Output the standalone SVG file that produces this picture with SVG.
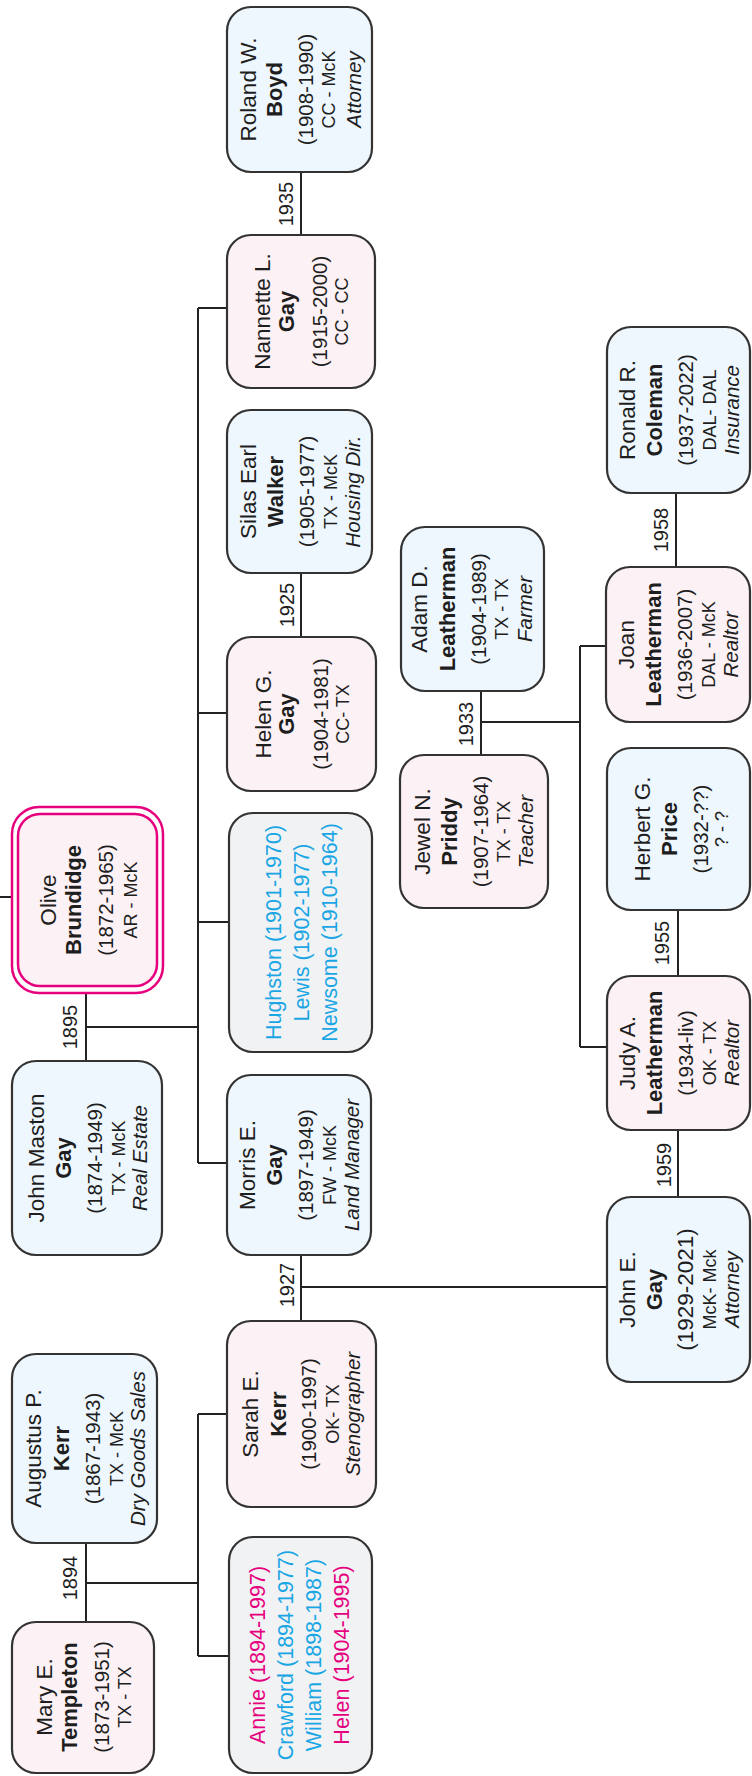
<svg xmlns="http://www.w3.org/2000/svg" width="752" height="1776" viewBox="0 0 752 1776">
  <style>
    text { font-family: "Liberation Sans", Arial, sans-serif; fill: #1e1e1e; text-anchor: middle; }
    .box { stroke: #333; stroke-width: 2.2; }
    .f { fill: #fcf1f5; }
    .m { fill: #eef7fd; }
    .g { fill: #f1f2f4; }
    .nm { font-size: 22.5px; }
    .sn { font-size: 22px; font-weight: bold; }
    .dt { font-size: 20.5px; }
    .lc { font-size: 18px; }
    .oc { font-size: 20.5px; font-style: italic; }
    .kid { font-size: 21.5px; }
    .pk { fill: #e6007e; }
    .cy { fill: #1aa6e4; }
    .yr { font-size: 20px; }
    .ln { stroke: #222; stroke-width: 2; fill: none; }
  </style>

  <!-- connectors -->
  <g id="connectors">
    <path class="ln" d="M86 1543V1622M86 1583H198M198 1414V1656M198 1414H227M198 1656H229"/>
    <path class="ln" d="M0 897H12"/>
    <path class="ln" d="M86 993V1061M86 1027H198M198 308V1163M198 308H227M198 713H227M198 922H229M198 1163H227"/>
    <path class="ln" d="M301 172V235"/>
    <path class="ln" d="M301 573V637"/>
    <path class="ln" d="M301 1255V1321M301 1287H607"/>
    <path class="ln" d="M481 691V755M481 722H580M580 646V1047M580 646H606M580 1047H607"/>
    <path class="ln" d="M676 493V567"/>
    <path class="ln" d="M678 910V976"/>
    <path class="ln" d="M678 1130V1197"/>
    <text class="yr" transform="translate(77,1578) rotate(-90)">1894</text>
    <text class="yr" transform="translate(77,1027) rotate(-90)">1895</text>
    <text class="yr" transform="translate(294,1285) rotate(-90)">1927</text>
    <text class="yr" transform="translate(294,605) rotate(-90)">1925</text>
    <text class="yr" transform="translate(293,204) rotate(-90)">1935</text>
    <text class="yr" transform="translate(473,724) rotate(-90)">1933</text>
    <text class="yr" transform="translate(668,530) rotate(-90)">1958</text>
    <text class="yr" transform="translate(669,943) rotate(-90)">1955</text>
    <text class="yr" transform="translate(671,1165) rotate(-90)">1959</text>
  </g>

  <g id="mary-templeton">
    <rect class="box f" x="12" y="1622" width="142" height="151" rx="24"/>
    <g transform="translate(83,1697) rotate(-90)">
      <text class="nm" y="-31">Mary E.</text>
      <text class="sn" y="-6">Templeton</text>
      <text class="dt" y="26">(1873-1951)</text>
      <text class="lc" y="48">TX - TX</text>
    </g>
  </g>

  <g id="augustus-kerr">
    <rect class="box m" x="12" y="1354" width="145" height="189" rx="24"/>
    <g transform="translate(84.5,1448.5) rotate(-90)">
      <text class="nm" y="-44">Augustus P.</text>
      <text class="sn" y="-16">Kerr</text>
      <text class="dt" y="15">(1867-1943)</text>
      <text class="lc" y="38">TX - McK</text>
      <text class="oc" y="60">Dry Goods Sales</text>
    </g>
  </g>

  <g id="kerr-children">
    <rect class="box g" x="229" y="1537" width="143" height="236" rx="24"/>
    <g transform="translate(300.5,1655) rotate(-90)">
      <text class="kid pk" y="-35.5">Annie (1894-1997)</text>
      <text class="kid cy" y="-7.5">Crawford (1894-1977)</text>
      <text class="kid cy" y="20.5">William (1898-1987)</text>
      <text class="kid pk" y="48.5">Helen (1904-1995)</text>
    </g>
  </g>

  <g id="sarah-kerr">
    <rect class="box f" x="227" y="1321" width="149" height="186" rx="24"/>
    <g transform="translate(301.5,1414) rotate(-90)">
      <text class="nm" y="-44">Sarah E.</text>
      <text class="sn" y="-16">Kerr</text>
      <text class="dt" y="14">(1900-1997)</text>
      <text class="lc" y="37">OK- TX</text>
      <text class="oc" y="58">Stenographer</text>
    </g>
  </g>

  <g id="john-maston-gay">
    <rect class="box m" x="12" y="1061" width="150" height="194" rx="24"/>
    <g transform="translate(87,1158) rotate(-90)">
      <text class="nm" y="-43">John Maston</text>
      <text class="sn" y="-16">Gay</text>
      <text class="dt" y="15">(1874-1949)</text>
      <text class="lc" y="38">TX - McK</text>
      <text class="oc" y="60">Real Estate</text>
    </g>
  </g>

  <g id="olive-brundidge">
    <rect x="12" y="807" width="151" height="186" rx="27" fill="#fff" stroke="#e6007e" stroke-width="2.5"/>
    <rect x="18" y="814" width="139" height="172" rx="22" fill="#fcf1f5" stroke="#e6007e" stroke-width="2.5"/>
    <g transform="translate(87.5,900) rotate(-90)">
      <text class="nm" y="-32">Olive</text>
      <text class="sn" y="-7">Brundidge</text>
      <text class="dt" y="25">(1872-1965)</text>
      <text class="lc" y="49">AR - McK</text>
    </g>
  </g>

  <g id="morris-gay">
    <rect class="box m" x="227" y="1075" width="144" height="180" rx="24"/>
    <g transform="translate(299,1165) rotate(-90)">
      <text class="nm" y="-44">Morris E.</text>
      <text class="sn" y="-17">Gay</text>
      <text class="dt" y="14">(1897-1949)</text>
      <text class="lc" y="37">FW - McK</text>
      <text class="oc" y="60">Land Manager</text>
    </g>
  </g>

  <g id="gay-children">
    <rect class="box g" x="229" y="813" width="143" height="239" rx="24"/>
    <g transform="translate(300.5,932.5) rotate(-90)">
      <text class="kid cy" y="-19.5">Hughston (1901-1970)</text>
      <text class="kid cy" y="8.5">Lewis (1902-1977)</text>
      <text class="kid cy" y="36.5">Newsome (1910-1964)</text>
    </g>
  </g>

  <g id="helen-gay">
    <rect class="box f" x="227" y="637" width="149" height="154" rx="24"/>
    <g transform="translate(301.5,714) rotate(-90)">
      <text class="nm" y="-31">Helen G.</text>
      <text class="sn" y="-8">Gay</text>
      <text class="dt" y="26">(1904-1981)</text>
      <text class="lc" y="47">CC- TX</text>
    </g>
  </g>

  <g id="silas-walker">
    <rect class="box m" x="227" y="410" width="145" height="163" rx="24"/>
    <g transform="translate(299.5,491.5) rotate(-90)">
      <text class="nm" y="-44">Silas Earl</text>
      <text class="sn" y="-17">Walker</text>
      <text class="dt" y="14">(1905-1977)</text>
      <text class="lc" y="37">TX - McK</text>
      <text class="oc" y="60">Housing Dir.</text>
    </g>
  </g>

  <g id="nannette-gay">
    <rect class="box f" x="227" y="235" width="148" height="153" rx="24"/>
    <g transform="translate(301,311.5) rotate(-90)">
      <text class="nm" y="-31">Nannette L.</text>
      <text class="sn" y="-7">Gay</text>
      <text class="dt" y="26">(1915-2000)</text>
      <text class="lc" y="47">CC - CC</text>
    </g>
  </g>

  <g id="roland-boyd">
    <rect class="box m" x="227" y="7" width="145" height="165" rx="24"/>
    <g transform="translate(299.5,89.5) rotate(-90)">
      <text class="nm" y="-44">Roland W.</text>
      <text class="sn" y="-18">Boyd</text>
      <text class="dt" y="13">(1908-1990)</text>
      <text class="lc" y="35">CC - McK</text>
      <text class="oc" y="61">Attorney</text>
    </g>
  </g>

  <g id="adam-leatherman">
    <rect class="box m" x="401" y="527" width="143" height="164" rx="24"/>
    <g transform="translate(472.5,609) rotate(-90)">
      <text class="nm" y="-46">Adam D.</text>
      <text class="sn" y="-18">Leatherman</text>
      <text class="dt" y="13">(1904-1989)</text>
      <text class="lc" y="35">TX - TX</text>
      <text class="oc" y="59">Farmer</text>
    </g>
  </g>

  <g id="jewel-priddy">
    <rect class="box f" x="400" y="755" width="148" height="153" rx="24"/>
    <g transform="translate(474,831.5) rotate(-90)">
      <text class="nm" y="-44">Jewel N.</text>
      <text class="sn" y="-17">Priddy</text>
      <text class="dt" y="14">(1907-1964)</text>
      <text class="lc" y="36">TX - TX</text>
      <text class="oc" y="59">Teacher</text>
    </g>
  </g>

  <g id="ronald-coleman">
    <rect class="box m" x="607" y="327" width="143" height="166" rx="24"/>
    <g transform="translate(678.5,410) rotate(-90)">
      <text class="nm" y="-44">Ronald R.</text>
      <text class="sn" y="-17">Coleman</text>
      <text class="dt" y="14">(1937-2022)</text>
      <text class="lc" y="37">DAL- DAL</text>
      <text class="oc" y="60">Insurance</text>
    </g>
  </g>

  <g id="joan-leatherman">
    <rect class="box f" x="606" y="567" width="144" height="155" rx="24"/>
    <g transform="translate(678,644.5) rotate(-90)">
      <text class="nm" y="-44">Joan</text>
      <text class="sn" y="-17">Leatherman</text>
      <text class="dt" y="14">(1936-2007)</text>
      <text class="lc" y="37">DAL - McK</text>
      <text class="oc" y="60">Realtor</text>
    </g>
  </g>

  <g id="herbert-price">
    <rect class="box m" x="607" y="748" width="143" height="162" rx="24"/>
    <g transform="translate(678.5,829) rotate(-90)">
      <text class="nm" y="-29">Herbert G.</text>
      <text class="sn" y="-2">Price</text>
      <text class="dt" y="29">(1932-??)</text>
      <text class="lc" y="49">? - ?</text>
    </g>
  </g>

  <g id="judy-leatherman">
    <rect class="box f" x="607" y="976" width="143" height="154" rx="24"/>
    <g transform="translate(678.5,1053) rotate(-90)">
      <text class="nm" y="-44">Judy A.</text>
      <text class="sn" y="-17">Leatherman</text>
      <text class="dt" y="14">(1934-liv)</text>
      <text class="lc" y="37">OK - TX</text>
      <text class="oc" y="60">Realtor</text>
    </g>
  </g>

  <g id="john-e-gay">
    <rect class="box m" x="607" y="1197" width="143" height="185" rx="24"/>
    <g transform="translate(678.5,1289.5) rotate(-90)">
      <text class="nm" y="-44">John E.</text>
      <text class="sn" y="-17">Gay</text>
      <text class="dt" y="14" style="font-size:22.5px">(1929-2021)</text>
      <text class="lc" y="37">McK- Mck</text>
      <text class="oc" y="60">Attorney</text>
    </g>
  </g>
</svg>
